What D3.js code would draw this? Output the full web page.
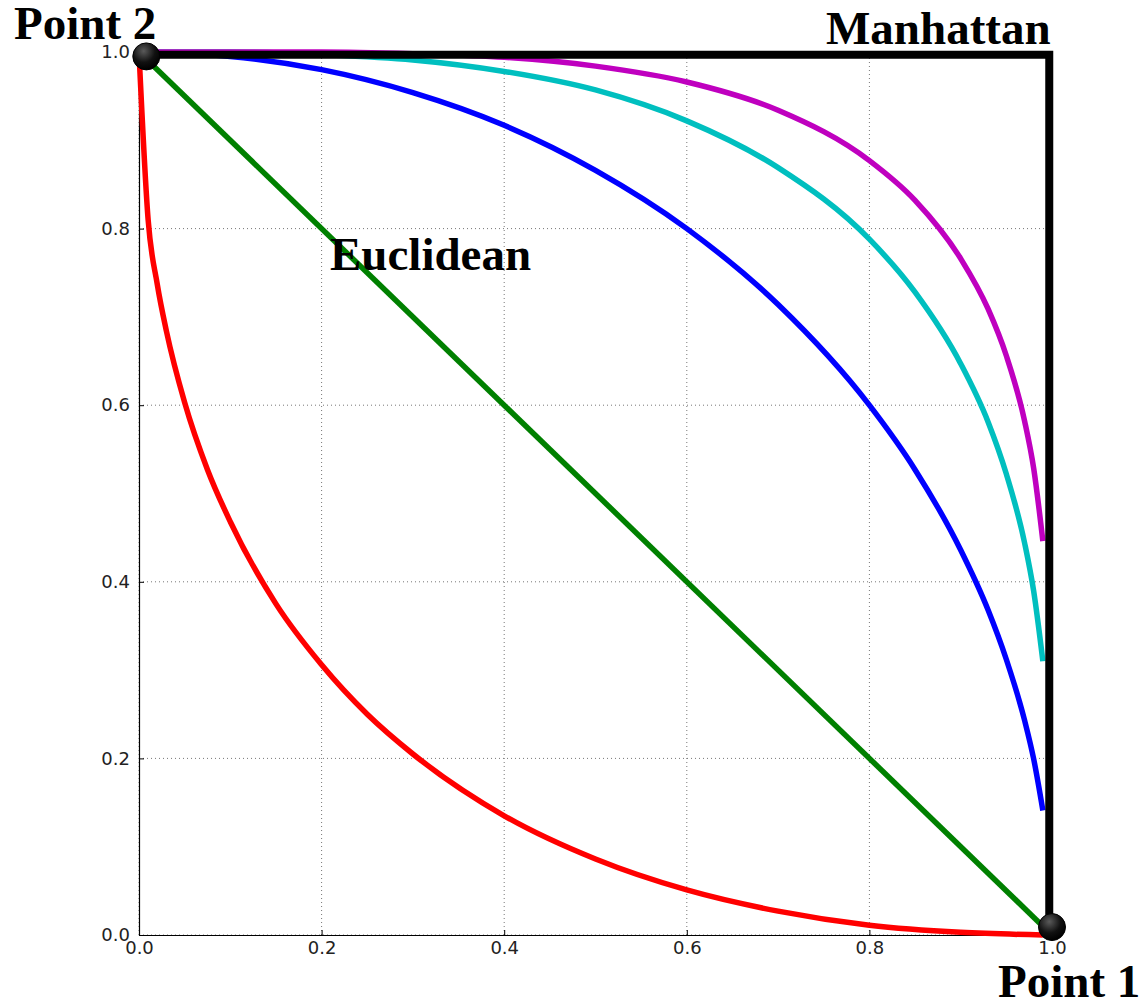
<!DOCTYPE html>
<html><head><meta charset="utf-8">
<script src="https://cdn.jsdelivr.net/npm/d3@7"></script>
<style>body{margin:0;background:#fff}svg{display:block}</style>
</head><body><svg id="c" width="1140" height="1001"></svg>
<script>
const tickValues = [0.0, 0.2, 0.4, 0.6, 0.8, 1.0];
const tickLabels = ["0.0", "0.2", "0.4", "0.6", "0.8", "1.0"];

// values
const redX = [0, 0.01, 0.02, 0.03, 0.05, 0.075, 0.1, 0.15, 0.2, 0.25, 0.3, 0.4, 0.5, 0.6, 0.7, 0.8, 0.9, 0.99];
const redY = [1, 0.81, 0.737, 0.684, 0.603, 0.527, 0.468, 0.375, 0.306, 0.25, 0.205, 0.135, 0.086, 0.051, 0.027, 0.011, 0.003, 0.0];
const greenX = [0, 0.99];
const greenY = [1, 0.01];
const curveX = [0, 0.1, 0.2, 0.3, 0.4, 0.5, 0.6, 0.7, 0.8, 0.85, 0.9, 0.93, 0.95, 0.97, 0.98, 0.99];
const blueY = [1, 0.995, 0.98, 0.954, 0.917, 0.866, 0.8, 0.714, 0.6, 0.527, 0.436, 0.368, 0.312, 0.243, 0.199, 0.141];
const cyanY = [1, 1.0, 0.997, 0.991, 0.978, 0.957, 0.922, 0.869, 0.788, 0.728, 0.647, 0.581, 0.522, 0.444, 0.389, 0.31];
const magentaY = [1, 1.0, 1.0, 0.998, 0.994, 0.984, 0.966, 0.934, 0.877, 0.832, 0.766, 0.709, 0.656, 0.582, 0.528, 0.446];
const manhattanX = [0.008, 0.997, 0.997];
const manhattanY = [0.997, 0.997, 0.009];
const pointNames = ["Point 1", "Point 2"];
const pointX = [1.0, 0.008];
const pointY = [0.009, 0.995];
const labelTexts = ["Point 2", "Manhattan", "Euclidean", "Point 1"];

const svg = d3.select("#c");
const x = d3.scaleLinear().domain([0, 1]).range([139, 1052]);
const y = d3.scaleLinear().domain([0, 1]).range([935, 52]);

const defs = svg.append("defs");
const rg = defs.append("radialGradient").attr("id", "ball").attr("cx", "40%").attr("cy", "30%").attr("r", "70%");
rg.append("stop").attr("offset", "0%").attr("stop-color", "#5a5a5a");
rg.append("stop").attr("offset", "60%").attr("stop-color", "#111");
rg.append("stop").attr("offset", "100%").attr("stop-color", "#000");

// grid
const grid = svg.append("g");
grid.selectAll("line.gx").data(tickValues).join("line")
  .attr("x1", d => x(d)).attr("x2", d => x(d)).attr("y1", y(0)).attr("y2", y(1))
  .attr("stroke", "#777").attr("stroke-width", 1).attr("stroke-dasharray", "1,3");
grid.selectAll("line.gy").data(tickValues).join("line")
  .attr("y1", d => y(d)).attr("y2", d => y(d)).attr("x1", x(0)).attr("x2", x(1))
  .attr("stroke", "#777").attr("stroke-width", 1).attr("stroke-dasharray", "1,3");

// axes
const xAxis = d3.axisBottom(x).tickValues(tickValues).tickFormat((d, i) => tickLabels[i]).tickSizeInner(-5).tickSizeOuter(0).tickPadding(9);
const yAxis = d3.axisLeft(y).tickValues(tickValues).tickFormat((d, i) => tickLabels[i]).tickSizeInner(-5).tickSizeOuter(0).tickPadding(9);
const gx = svg.append("g").attr("transform", `translate(0,${y(0)})`).call(xAxis);
const gy = svg.append("g").attr("transform", `translate(${x(0)},0)`).call(yAxis);
[gx, gy].forEach(g => {
  g.selectAll("text").attr("font-family", "DejaVu Sans").attr("font-size", 18).attr("fill", "#222");
  g.select(".domain").attr("stroke", "#000").attr("stroke-width", 1.2);
  g.selectAll(".tick line").attr("stroke", "#000");
});
gx.selectAll("text").attr("dy", "0.55em");
// top/right frame
svg.append("line").attr("x1", x(0)).attr("x2", x(1)).attr("y1", y(1)).attr("y2", y(1)).attr("stroke", "#000");
svg.append("line").attr("x1", x(1)).attr("x2", x(1)).attr("y1", y(0)).attr("y2", y(1)).attr("stroke", "#000");

const line = d3.line().x(d => x(d[0])).y(d => y(d[1]));
const smooth = d3.line().x(d => x(d[0])).y(d => y(d[1])).curve(d3.curveMonotoneX);
const zip = (a, b) => a.map((v, i) => [v, b[i]]);

const series = [
  {pts: zip(redX, redY), color: "#ff0000", w: 5.5, gen: smooth},
  {pts: zip(greenX, greenY), color: "#008000", w: 5.5, gen: line},
  {pts: zip(curveX, blueY), color: "#0000ff", w: 5.5, gen: smooth},
  {pts: zip(curveX, cyanY), color: "#00bfbf", w: 5.5, gen: smooth},
  {pts: zip(curveX, magentaY), color: "#bf00bf", w: 5.5, gen: smooth},
  {pts: zip(manhattanX, manhattanY), color: "#000000", w: 8, gen: line}
];
svg.append("g").selectAll("path").data(series).join("path")
  .attr("d", d => d.gen(d.pts)).attr("fill", "none")
  .attr("stroke", d => d.color).attr("stroke-width", d => d.w)
  .attr("stroke-linejoin", "miter");

svg.append("g").selectAll("circle").data(pointNames).join("circle")
  .attr("cx", (d, i) => x(pointX[i])).attr("cy", (d, i) => y(pointY[i]))
  .attr("r", 13.5).attr("fill", "url(#ball)").attr("stroke", "#000").attr("stroke-width", 1);

const labelPos = [[14, 39], [826, 44], [330, 270], [998, 997]];
svg.append("g").selectAll("text").data(labelTexts).join("text")
  .attr("x", (d, i) => labelPos[i][0]).attr("y", (d, i) => labelPos[i][1])
  .attr("font-family", "Liberation Serif").attr("font-weight", "bold").attr("font-size", 47)
  .attr("fill", "#000").text(d => d);
</script></body></html>
